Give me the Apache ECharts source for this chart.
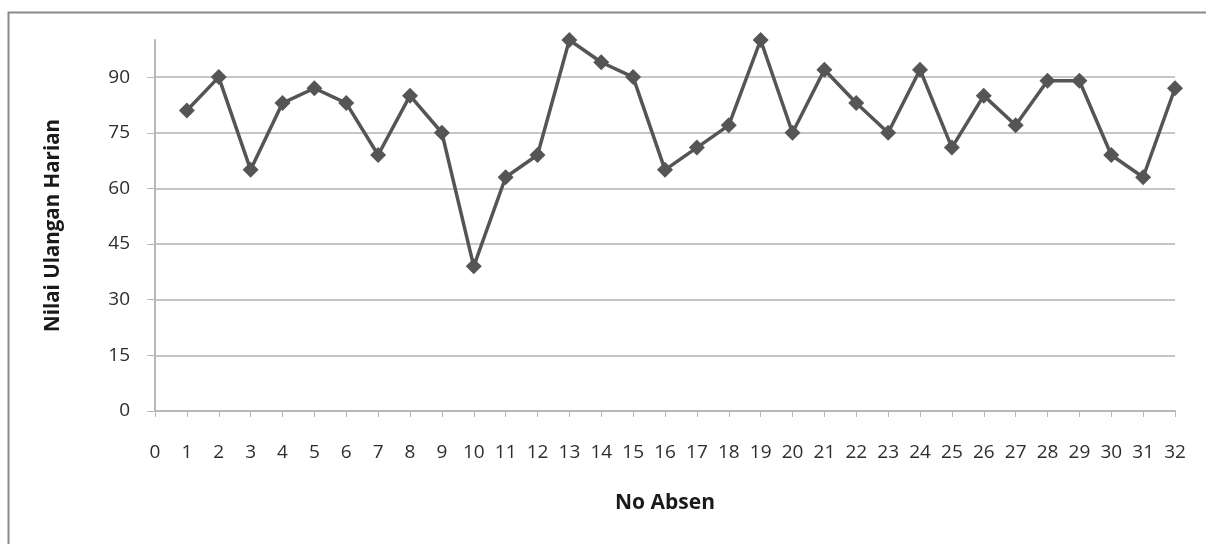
<!DOCTYPE html>
<html>
<head>
<meta charset="utf-8">
<script src="https://cdn.jsdelivr.net/npm/echarts@6/dist/echarts.min.js"></script>
<style>
  html, body { margin: 0; padding: 0; background: #fff; }
  #main { width: 1206px; height: 544px; }
</style>
</head>
<body>
<div id="main"></div>
<script>
// No Absen 1..32 and the daily test score of each student
const noAbsen = [1, 2, 3, 4, 5, 6, 7, 8, 9, 10, 11, 12, 13, 14, 15, 16,
    17, 18, 19, 20, 21, 22, 23, 24, 25, 26, 27, 28, 29, 30, 31, 32];
const nilai = [81, 90, 65, 83, 87, 83, 69, 85, 75, 39, 63, 69, 100, 94, 90, 65,
    71, 77, 100, 75, 92, 83, 75, 92, 71, 85, 77, 89, 89, 69, 63, 87];

let chart = echarts.init(document.getElementById('main'));
let font = '"Open Sans", Lato, sans-serif';

let option = {
    backgroundColor: '#fff',
    animation: false,
    graphic: [{
        type: 'rect',
        shape: { x: 8.5, y: 12.5, width: 1210, height: 560 },
        style: { fill: 'none', stroke: '#8a8a8a', lineWidth: 2 },
        silent: true
    }],
    grid: { left: 155, right: 31, top: 40, bottom: 133 },
    xAxis: {
        type: 'value',
        min: 0,
        max: 32,
        interval: 1,
        name: 'No Absen',
        nameLocation: 'middle',
        nameGap: 82,
        nameTextStyle: { fontFamily: font, fontSize: 21, fontWeight: 'bold', color: '#1a1a1a' },
        axisLine: { lineStyle: { color: '#b8b8b8', width: 2 } },
        axisTick: { show: true, length: 6, lineStyle: { color: '#b8b8b8', width: 1 } },
        axisLabel: { margin: 32, fontFamily: font, fontSize: 19, color: '#2e2e2e' },
        splitLine: { show: false }
    },
    yAxis: {
        type: 'value',
        min: 0,
        max: 100,
        interval: 15,
        name: 'Nilai Ulangan Harian',
        nameLocation: 'middle',
        nameGap: 91,
        nameTextStyle: { fontFamily: font, fontSize: 20.5, fontWeight: 'bold', color: '#1a1a1a' },
        axisLine: { show: true, lineStyle: { color: '#b8b8b8', width: 2 } },
        axisTick: { show: true, inside: false, length: 8, lineStyle: { color: '#b8b8b8' } },
        axisLabel: { margin: 25, fontFamily: font, fontSize: 19, color: '#2e2e2e', showMaxLabel: false },
        splitLine: { show: true, showMaxLine: false, lineStyle: { color: '#c6c6c6', width: 2 } }
    },
    series: [{
        type: 'line',
        data: noAbsen.map((n, i) => [n, nilai[i]]),
        symbol: 'diamond',
        symbolSize: 16,
        lineStyle: { color: '#555', width: 3.5 },
        itemStyle: { color: '#555' }
    }]
};

chart.setOption(option);
</script>
</body>
</html>
